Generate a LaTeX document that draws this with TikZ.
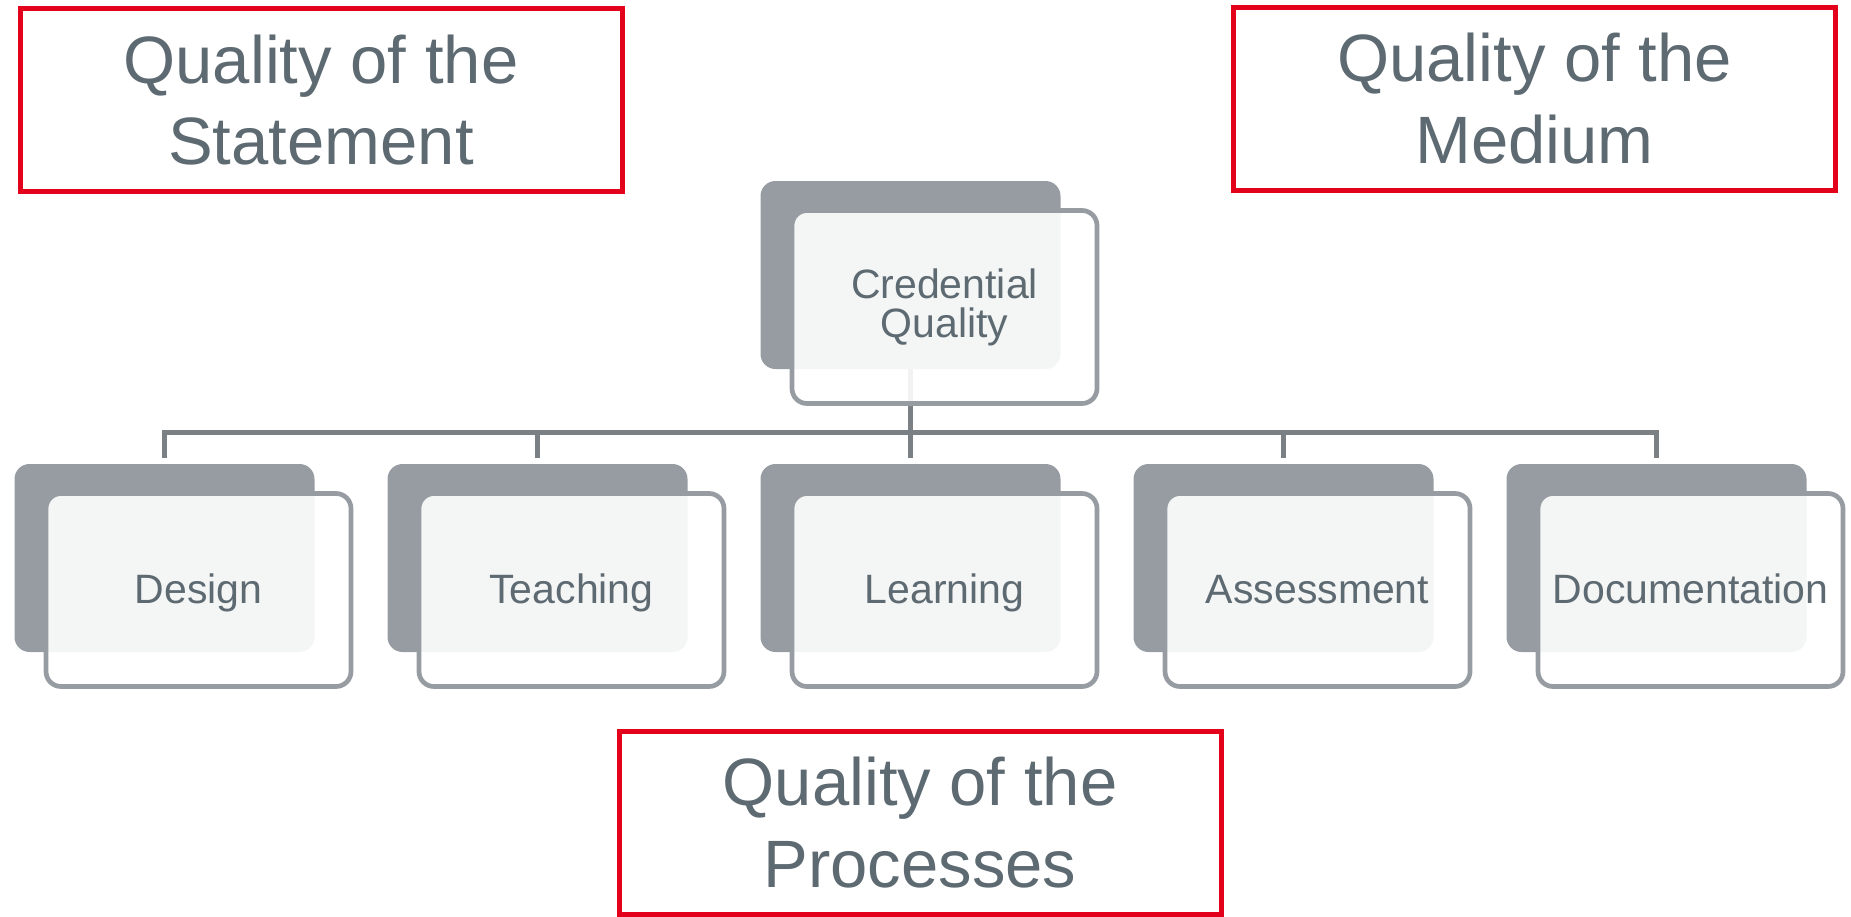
\documentclass[tikz,border=0pt]{standalone}
\usepackage{fontspec}
\setmainfont{Liberation Sans}
\usetikzlibrary{backgrounds}

\definecolor{slate}{HTML}{5E6A72}
\definecolor{backgrey}{HTML}{969CA1}
\definecolor{linegrey}{HTML}{7B8085}
\definecolor{redline}{HTML}{E2001A}

\begin{document}
\begin{tikzpicture}[x=1pt,y=-1pt]

\tikzstyle{back}=[rectangle, rounded corners=15pt, fill=backgrey, minimum width=300pt, minimum height=188pt, inner sep=0pt]
\tikzstyle{front}=[rectangle, rounded corners=15pt, draw=backgrey, line width=4.7pt, fill=white, fill opacity=0.9, text opacity=1, text=slate, minimum width=305pt, minimum height=193pt, inner sep=0pt, align=center, font=\fontsize{41}{39}\selectfont]
\tikzstyle{child}=[front, text height=30pt, text depth=4pt]
\tikzstyle{quality}=[rectangle, draw=redline, line width=5pt, minimum width=602pt, minimum height=183pt, inner sep=0pt, text=slate, align=center, font=\fontsize{67}{81.7}\selectfont]

\tikzstyle{connect}=[line width=5pt, draw=linegrey]

\useasboundingbox (0,0) rectangle (1851,916);

\node[back] (cqb) at (910.5,275)  {};
\node[front] (cq) at (944.5,307)  {Credential\\Quality};

\node[back] (designb) at (164.5,558)  {};
\node[child] (design) at (198.5,590)  {Design};

\node[back] (teachb) at (537.5,558)  {};
\node[child] (teach) at (571.5,590)  {Teaching};

\node[back] (learnb) at (910.5,558)  {};
\node[child] (learn) at (944.5,590)  {Learning};

\node[back] (assessb) at (1283.5,558)  {};
\node[child] (assess) at (1317.5,590)  {Assessment};

\node[back] (docb) at (1656.5,558)  {};
\node[child] (doc) at (1690.5,590)  {Documentation};



\node[quality] (stmt) at (321,100)  {Quality of the\\Statement};
\node[quality] (medium) at (1534.5,98.5)  {Quality of the\\Medium};
\node[quality] (proc) at (920,822.5)  {Quality of the\\Processes};



\begin{scope}[on background layer]
\coordinate (bar) at (910.5,432.7);
\path (cqb.south) [connect] edge (bar);
\draw[connect] (bar) -| ([yshift=6pt]designb.north);
\draw[connect] (bar) -| ([yshift=6pt]teachb.north);
\draw[connect] (bar) -| ([yshift=6pt]learnb.north);
\draw[connect] (bar) -| ([yshift=6pt]assessb.north);
\draw[connect] (bar) -| ([yshift=6pt]docb.north);
\end{scope}

\end{tikzpicture}
\end{document}
